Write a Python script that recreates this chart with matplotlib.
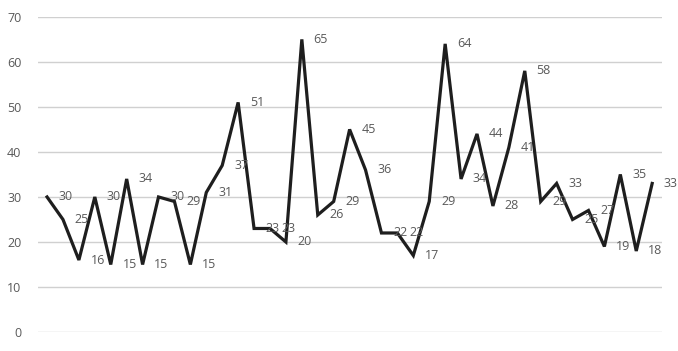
import matplotlib
matplotlib.use("Agg")
import matplotlib.pyplot as plt

values = [30, 25, 16, 30, 15, 34, 15, 30, 29, 15, 31, 37, 51, 23, 23, 20, 65, 26, 29,
          45, 36, 22, 22, 17, 29, 64, 34, 44, 28, 41, 58, 29, 33, 25, 27, 19, 35, 18, 33]
yticks = [0, 10, 20, 30, 40, 50, 60, 70]

plt.rcParams['font.family'] = ['Open Sans', 'DejaVu Sans']

fig = plt.figure(figsize=(6.78, 3.51), dpi=100)
ax = fig.add_axes([0.056, 0.054, 0.92, 0.898])
x = list(range(len(values)))
ax.plot(x, values, color='#1e1e1e', linewidth=2.3, solid_joinstyle='miter', zorder=3)
for xi, v in zip(x, values):
    ax.annotate(str(v), (xi, v), xytext=(8.5, 0), textcoords='offset points',
                ha='left', va='center', fontsize=9, color='#595959', zorder=4)

ax.set_ylim(0, 70)
ax.set_xlim(-0.57, 38.6)
ax.set_yticks(yticks)
ax.set_xticks([])
ax.grid(axis='y', color='#d0d0d0', linewidth=1.0)
ax.set_axisbelow(True)
for s in ax.spines.values():
    s.set_visible(False)
ax.tick_params(axis='y', length=0, pad=12, labelsize=9, labelcolor='#595959')
fig.savefig('out.png', dpi=100, facecolor='white')
